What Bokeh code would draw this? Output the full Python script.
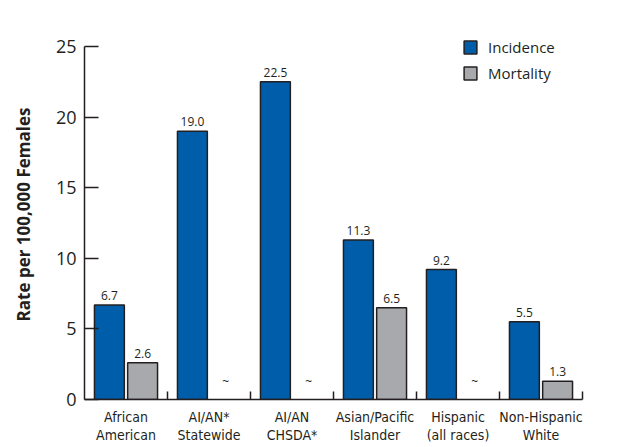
from bokeh.plotting import figure
from bokeh.models import ColumnDataSource, FixedTicker, Legend, LegendItem
from bokeh.core.properties import value
from bokeh.embed import file_html
from bokeh.resources import INLINE

categories = ["African\nAmerican", "AI/AN*\nStatewide", "AI/AN\nCHSDA*",
              "Asian/Pacific\nIslander", "Hispanic\n(all races)", "Non-Hispanic\nWhite"]
incidence = [6.7, 19.0, 22.5, 11.3, 9.2, 5.5]
mortality = [2.6, None, None, 6.5, None, 1.3]
y_ticks = [0, 5, 10, 15, 20, 25]

BLUE = "#005DAA"
GRAY = "#A7A9AC"
TXT = "#231F20"
NARROW = "'DejaVu Sans Condensed', 'Open Sans', sans-serif"

n = len(categories)
centers = [i + 0.5 for i in range(n)]
inc_src = ColumnDataSource(dict(x=[c - 0.2 for c in centers], top=incidence,
                                lab=["%.1f" % v for v in incidence]))
mx, mt, ml = [], [], []
tx = []
for c, v in zip(centers, mortality):
    if v is None:
        tx.append(c + 0.2)
    else:
        mx.append(c + 0.2); mt.append(v); ml.append("%.1f" % v)
mort_src = ColumnDataSource(dict(x=mx, top=mt, lab=ml))
tilde_src = ColumnDataSource(dict(x=tx, y=[1.25] * len(tx), lab=["~"] * len(tx)))

p = figure(width=642, height=447, x_range=(0, n), y_range=(0, 26.2),
           output_backend="svg", toolbar_location=None,
           min_border_left=84, min_border_right=60, min_border_top=29, min_border_bottom=48)
p.outline_line_color = None
p.xgrid.grid_line_color = None
p.ygrid.grid_line_color = None
p.background_fill_color = "white"

r_inc = p.vbar(x="x", top="top", width=0.36, source=inc_src, fill_color=BLUE,
               line_color=TXT, line_width=1.5)
r_mort = p.vbar(x="x", top="top", width=0.36, source=mort_src, fill_color=GRAY,
                line_color=TXT, line_width=1.5)

for src in (inc_src, mort_src):
    p.text(x="x", y="top", text="lab", source=src, x_offset=0, y_offset=-5,
           text_align="center", text_baseline="bottom", text_color=TXT,
           text_font=value("Open Sans"), text_font_size="12px")
p.text(x="x", y="y", text="lab", source=tilde_src, text_align="center",
       text_baseline="middle", text_color=TXT, text_font=value("Open Sans"),
       text_font_size="12px")

# y axis
p.yaxis.ticker = FixedTicker(ticks=y_ticks)
p.yaxis.bounds = (0, 25)
p.yaxis.major_tick_in = 14
p.yaxis.major_tick_out = 0
p.yaxis.minor_tick_line_color = None
p.yaxis.axis_line_width = 1.5
p.yaxis.major_tick_line_width = 1.5
p.yaxis.axis_line_color = TXT
p.yaxis.major_tick_line_color = TXT
p.yaxis.major_label_standoff = 8
p.yaxis.major_label_text_font = "Open Sans"
p.yaxis.major_label_text_font_size = "18px"
p.yaxis.major_label_text_color = TXT
p.yaxis.axis_label = "Rate per 100,000 Females"
p.yaxis.axis_label_text_font = "Open Sans"
p.yaxis.axis_label_text_font_style = "bold"
p.yaxis.axis_label_text_font_size = "17px"
p.yaxis.axis_label_text_color = TXT
p.yaxis.axis_label_standoff = 18

# x axis
p.xaxis.ticker = FixedTicker(ticks=centers, minor_ticks=[float(i) for i in range(1, n + 1)])
p.xaxis.major_label_overrides = {c: lab for c, lab in zip(centers, categories)}
p.xaxis.major_tick_line_color = None
p.xaxis.major_tick_in = 0
p.xaxis.major_tick_out = 0
p.xaxis.minor_tick_in = 8
p.xaxis.minor_tick_out = 0
p.xaxis.minor_tick_line_width = 1.5
p.xaxis.minor_tick_line_color = TXT
p.xaxis.axis_line_width = 1.5
p.xaxis.axis_line_color = TXT
p.xaxis.major_label_standoff = 9
p.xaxis.major_label_text_font = NARROW
p.xaxis.major_label_text_font_size = "14px"
p.xaxis.major_label_text_color = TXT
p.xaxis.major_label_text_line_height = 1.15

legend = Legend(items=[LegendItem(label="Incidence", renderers=[r_inc]),
                       LegendItem(label="Mortality", renderers=[r_mort])],
                location=(378, 316), glyph_width=16, glyph_height=16,
                label_height=20, spacing=6, padding=0, margin=0,
                label_standoff=10, border_line_color=None,
                background_fill_alpha=0, label_text_font="Open Sans",
                label_text_font_size="15px", label_text_color=TXT)
p.add_layout(legend, "center")

open("out.html", "w").write(file_html(p, INLINE))
